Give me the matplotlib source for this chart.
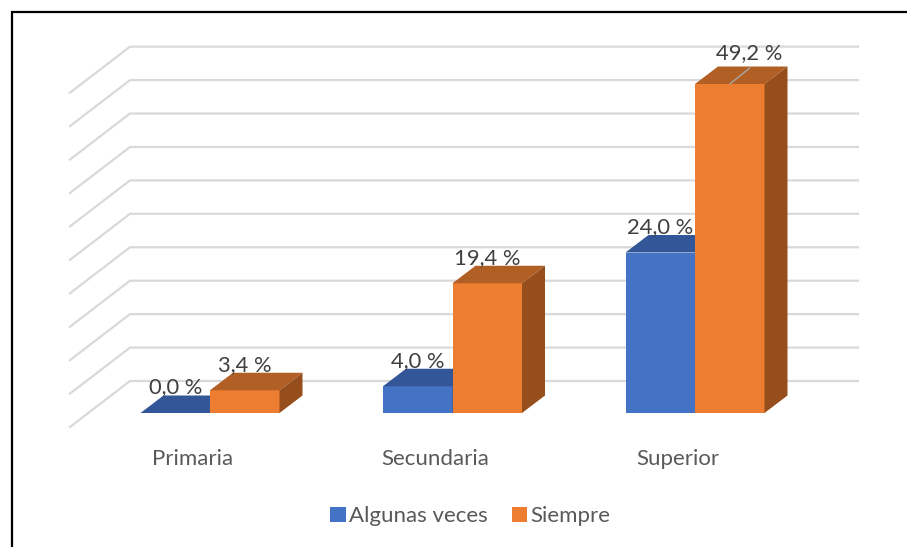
import numpy as np
import matplotlib
matplotlib.use("Agg")
import matplotlib.pyplot as plt

categories = ["Primaria", "Secundaria", "Superior"]
series_names = ["Algunas veces", "Siempre"]
algunas_veces = [0.0, 4.0, 24.0]
siempre = [3.4, 19.4, 49.2]
grid_values = [0, 5, 10, 15, 20, 25, 30, 35, 40, 45, 50]

W, H = 907, 547
X0, X_STEP = 210.0, 242.5      # pixel of first group centre, px between groups
Y0, Y_SCALE = 413.0, 6.687     # pixel of value 0 on the bar front, px per 1 %
BAR_W = 69.5 / X_STEP
DEPTH_X, DEPTH_Y = 23.0 / X_STEP, 17.5 / Y_SCALE

plt.rcParams["font.family"] = ["Lato", "DejaVu Sans"]

fig = plt.figure(figsize=(W / 100, H / 100), dpi=100)
ax = fig.add_axes([0, 0, 1, 1])
ax.set_xlim(-X0 / X_STEP, (W - X0) / X_STEP)
ax.set_ylim(-(H - Y0) / Y_SCALE, Y0 / Y_SCALE)
ax.axis("off")

# chart frame, only top and left fall inside the crop
frame_x = ax.get_xlim()[0] + 12 / X_STEP
frame_y = ax.get_ylim()[1] - 12 / Y_SCALE
ax.plot([frame_x, frame_x, ax.get_xlim()[1]],
        [ax.get_ylim()[0], frame_y, frame_y],
        color="black", lw=1.6, zorder=1, solid_joinstyle="miter")

# floor / side wall grid lines
wall_front = (70 - X0) / X_STEP
wall_back = (130 - X0) / X_STEP
wall_right = (858 - X0) / X_STEP
floor_front = -14 / Y_SCALE
floor_back = 32 / Y_SCALE
for v in grid_values:
    ax.plot([wall_front, wall_back, wall_right],
            [v + floor_front, v + floor_back, v + floor_back],
            color="#D9D9D9", lw=1.6, zorder=1)


def draw_box(left, height, front, top, side):
    """Front face through ax.bar, then the top and side faces of the 3D look."""
    right = left + BAR_W
    bar = ax.bar(left, height, BAR_W, align="edge", color=front, zorder=3)
    ax.fill([left, right, right + DEPTH_X, left + DEPTH_X],
            [height, height, height + DEPTH_Y, height + DEPTH_Y],
            color=top, lw=0, zorder=3)
    ax.fill([right, right + DEPTH_X, right + DEPTH_X, right],
            [0, DEPTH_Y, height + DEPTH_Y, height],
            color=side, lw=0, zorder=3)
    return bar


def label(x, v, text, dx=0, dy=25.5):
    ax.annotate(text, (x, v), xytext=(dx * 0.72, dy * 0.72),
                textcoords="offset points", ha="center", va="center",
                color="#404040", fontsize=15.8, zorder=5)


def fmt(v):
    return f"{v:.1f} %".replace(".", ",")


xs = np.arange(len(categories))
for i in xs:
    b1 = draw_box(i - BAR_W, algunas_veces[i], "#4472C4", "#325697", "#2F5597")
    b2 = draw_box(i, siempre[i], "#ED7D31", "#B15F24", "#964F1C")
    label(i - BAR_W / 2, algunas_veces[i], fmt(algunas_veces[i]))
    if i < 2:
        label(i + BAR_W / 2, siempre[i], fmt(siempre[i]))
    else:
        # last label is pulled aside, with a leader line
        label(i + BAR_W / 2, siempre[i], fmt(siempre[i]), dx=19.5, dy=31)
        ax.annotate("", (i + BAR_W / 2, siempre[i]), xytext=(14.4, 11.5),
                    textcoords="offset points",
                    arrowprops=dict(arrowstyle="-", color="#A6A6A6", lw=1.0,
                                    shrinkA=0, shrinkB=0), zorder=4)
    ax.annotate(categories[i], (i, 0), xytext=(-17.5 * 0.72, -46 * 0.72),
                textcoords="offset points", ha="center", va="center",
                color="#595959", fontsize=16)

leg = ax.legend([b1, b2], series_names, loc="center", ncol=2, frameon=False,
                bbox_to_anchor=(470.5 / W, 1 - 516.5 / H), bbox_transform=fig.transFigure,
                fontsize=16, handlelength=0.68, handleheight=0.68,
                handletextpad=0.15, columnspacing=1.1, labelcolor="#595959")

fig.savefig("out.png", dpi=100)
